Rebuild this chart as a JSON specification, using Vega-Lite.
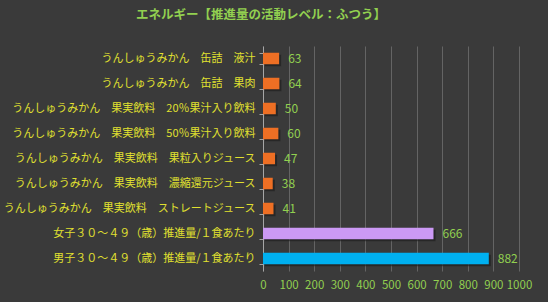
{
  "$schema": "https://vega.github.io/schema/vega-lite/v6.json",
  "autosize": "none",
  "width": 256,
  "height": 225,
  "padding": {"left": 263, "top": 46, "right": 29, "bottom": 31},
  "background": "#3a3a3a",
  "config": {
    "view": {"stroke": null},
    "font": "Noto Sans CJK JP"
  },
  "title": {
    "text": "エネルギー【推進量の活動レベル：ふつう】",
    "color": "#92d050",
    "fontSize": 12.5,
    "fontWeight": "bold",
    "anchor": "middle",
    "frame": "group",
    "dx": -130,
    "offset": 19
  },
  "data": {
    "values": [
      {"name": "うんしゅうみかん　缶詰　液汁", "value": 63, "kind": "food"},
      {"name": "うんしゅうみかん　缶詰　果肉", "value": 64, "kind": "food"},
      {"name": "うんしゅうみかん　果実飲料　20％果汁入り飲料", "value": 50, "kind": "food"},
      {"name": "うんしゅうみかん　果実飲料　50％果汁入り飲料", "value": 60, "kind": "food"},
      {"name": "うんしゅうみかん　果実飲料　果粒入りジュース", "value": 47, "kind": "food"},
      {"name": "うんしゅうみかん　果実飲料　濃縮還元ジュース", "value": 38, "kind": "food"},
      {"name": "うんしゅうみかん　果実飲料　ストレートジュース", "value": 41, "kind": "food"},
      {"name": "女子３０～４９（歳）推進量/１食あたり", "value": 666, "kind": "female"},
      {"name": "男子３０～４９（歳）推進量/１食あたり", "value": 882, "kind": "male"}
    ]
  },
  "encoding": {
    "y": {
      "field": "name",
      "type": "nominal",
      "sort": null,
      "scale": {"paddingInner": 0.54, "paddingOuter": 0.27},
      "axis": {
        "title": null,
        "domainColor": "#a6a6a6",
        "tickColor": "#a6a6a6",
        "tickBand": "extent",
        "tickSize": 4,
        "labelColor": "#e0e030",
        "labelFontSize": 11,
        "labelPadding": 4,
        "labelLimit": 300
      }
    },
    "x": {
      "field": "value",
      "type": "quantitative",
      "scale": {"domain": [0, 1000]},
      "axis": {
        "title": null,
        "values": [0, 100, 200, 300, 400, 500, 600, 700, 800, 900, 1000],
        "format": "d",
        "domain": false,
        "ticks": false,
        "gridColor": "#6e6e6e",
        "gridWidth": 0.8,
        "labelColor": "#92d050",
        "labelFontSize": 11.5,
        "labelPadding": 8,
        "labelFlush": false
      }
    }
  },
  "layer": [
    {
      "mark": {"type": "bar", "color": "#1a1a1a", "opacity": 0.6, "xOffset": 2, "yOffset": 2, "cornerRadius": 0}
    },
    {
      "mark": {"type": "bar"},
      "encoding": {
        "color": {
          "field": "kind",
          "type": "nominal",
          "scale": {"domain": ["food", "female", "male"], "range": ["#ee6f24", "#cc99f5", "#00b0f0"]},
          "legend": null
        }
      }
    },
    {
      "mark": {"type": "text", "align": "left", "dx": 9, "color": "#92d050", "fontSize": 12},
      "encoding": {"text": {"field": "value", "type": "quantitative"}}
    }
  ]
}
